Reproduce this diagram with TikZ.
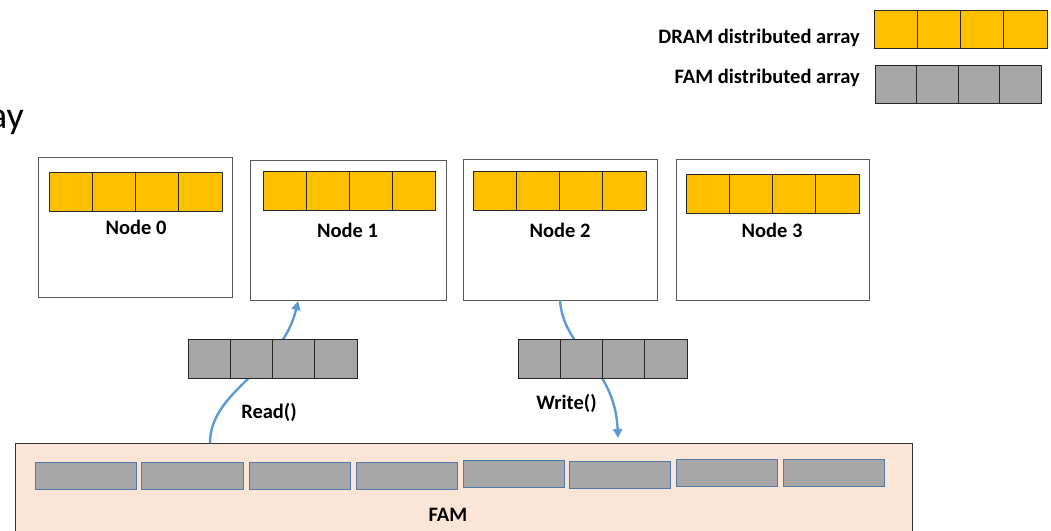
\documentclass[tikz,border=0pt]{standalone}
\usepackage{fontspec}
\setmainfont{Carlito}
\usetikzlibrary{arrows.meta}
\definecolor{dramyellow}{HTML}{FFC000}
\definecolor{famgray}{HTML}{A6A6A6}
\definecolor{fampeach}{HTML}{FBE5D6}
\definecolor{flowblue}{HTML}{5B9BD5}
\definecolor{blockedge}{HTML}{4F7BAA}
\tikzset{
  cellbox/.style={draw=black!85, line width=1pt, inner sep=0pt, outer sep=0pt, anchor=north west},
  nodebox/.style={draw=black!65, line width=1.2pt, fill=white, inner sep=0pt, anchor=north west},
  fambox/.style={draw=black!80, line width=1.2pt, fill=fampeach, inner sep=0pt, anchor=north west},
  famblock/.style={draw=blockedge, line width=1.2pt, fill=famgray, inner sep=0pt, anchor=north west},
  lbl/.style={font=\fontsize{20.5}{22}\selectfont\bfseries, inner sep=0pt},
  flow/.style={draw=flowblue, line width=2.4pt},
  flowtip/.style={-{Triangle[width=9pt,length=9pt]}}
}
\newcommand\myarray[6]{%
  \foreach \i in {0,...,3}{%
    \node[cellbox, fill=#6, minimum width={(#4/4)*1pt}, minimum height={#5*1pt}]
      (#1-\i) at ({#2+\i*#4/4},#3) {};
  }%
}
\begin{document}
\begin{tikzpicture}[x=1pt,y=-1pt]
\useasboundingbox (0,0) rectangle (1051,530);
% legend
\myarray{legd}{874}{10}{173}{38}{dramyellow}
\myarray{legf}{875}{65}{166}{38}{famgray}
\node[lbl, anchor=base east] (legdt) at (860,43) {DRAM distributed array};
\node[lbl, anchor=base east] (legft) at (860,83) {FAM distributed array};
% cut-off title
\node[font=\fontsize{38}{40}\selectfont, inner sep=0pt, anchor=base east] (title) at (24,128) {ay};
% compute nodes
\node[nodebox, minimum width=194pt, minimum height=140pt] (n0) at (38,157) {};
\node[nodebox, minimum width=196pt, minimum height=140pt] (n1) at (250,160) {};
\node[nodebox, minimum width=194pt, minimum height=141pt] (n2) at (463,159) {};
\node[nodebox, minimum width=193pt, minimum height=141pt] (n3) at (676,159) {};
\myarray{a0}{49}{172}{173}{39}{dramyellow}
\myarray{a1}{263}{171}{172}{39}{dramyellow}
\myarray{a2}{473}{171}{173}{39}{dramyellow}
\myarray{a3}{686}{174}{173}{39}{dramyellow}
\node[lbl, anchor=base] (t0) at (136,234.3) {Node 0};
\node[lbl, anchor=base] (t1) at (347.5,237) {Node 1};
\node[lbl, anchor=base] (t2) at (560,237) {Node 2};
\node[lbl, anchor=base] (t3) at (772,237) {Node 3};
% FAM
\node[fambox, minimum width=897pt, minimum height=120pt] (fam) at (15,443) {};
\node[famblock, minimum width=101pt, minimum height=27pt] (b1) at (35,462) {};
\node[famblock, minimum width=102pt, minimum height=27pt] (b2) at (141,462) {};
\node[famblock, minimum width=101pt, minimum height=27pt] (b3) at (249,462) {};
\node[famblock, minimum width=101pt, minimum height=27pt] (b4) at (356,462) {};
\node[famblock, minimum width=101pt, minimum height=27pt] (b5) at (463,460) {};
\node[famblock, minimum width=101pt, minimum height=27pt] (b6) at (569,461) {};
\node[famblock, minimum width=101pt, minimum height=27pt] (b7) at (676,459) {};
\node[famblock, minimum width=101pt, minimum height=27pt] (b8) at (783,459) {};
\node[lbl, anchor=base] (famt) at (448,521) {FAM};
% flows
\coordinate (rd0) at (210,443);
\coordinate (rd1) at (298,301);
\coordinate (wr0) at (560,300);
\coordinate (wr1) at (618,438);
\draw[flow, flowtip] (rd0) .. controls (210,390) and (282,370) .. (rd1);
\draw[flow, flowtip] (wr0) .. controls (563,350) and (615,365) .. (wr1);
% transfer buffers
\myarray{rb}{188}{339}{169}{39}{famgray}
\myarray{wb}{518}{339}{169}{39}{famgray}
\node[lbl, anchor=base] (rdt) at (269,418) {Read()};
\node[lbl, anchor=base] (wrt) at (566.5,409) {Write()};
\end{tikzpicture}
\end{document}
